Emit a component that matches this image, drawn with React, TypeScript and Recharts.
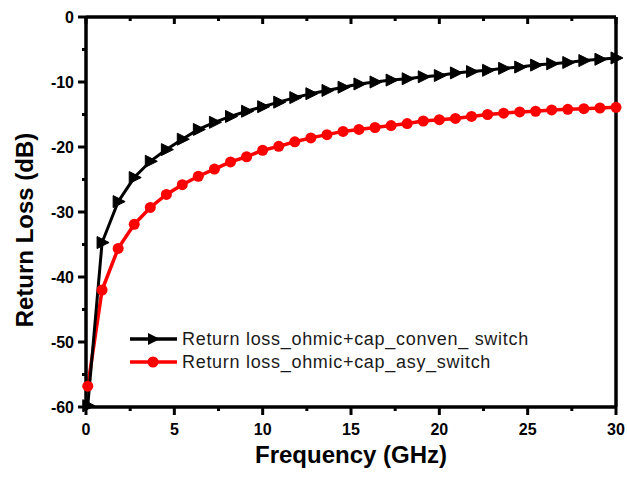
import React from 'react';
import { LineChart, Line, XAxis, YAxis } from 'recharts';

const freqs = [0.1, 0.91, 1.82, 2.73, 3.64, 4.55, 5.45, 6.36, 7.27, 8.18, 9.09, 10.0, 10.91, 11.82, 12.73, 13.64, 14.55, 15.45, 16.36, 17.27, 18.18, 19.09, 20.0, 20.91, 21.82, 22.73, 23.64, 24.55, 25.45, 26.36, 27.27, 28.18, 29.09, 30.0];
const convenSwitch = [-59.8, -34.7, -28.4, -24.7, -22.2, -20.4, -18.8, -17.3, -16.2, -15.3, -14.5, -13.8, -13.1, -12.4, -11.8, -11.3, -10.8, -10.3, -10.0, -9.7, -9.5, -9.2, -9.0, -8.6, -8.4, -8.2, -7.9, -7.7, -7.4, -7.2, -7.0, -6.7, -6.5, -6.3];
const asySwitch = [-56.8, -42.0, -35.6, -31.9, -29.3, -27.3, -25.8, -24.5, -23.4, -22.3, -21.5, -20.5, -19.9, -19.2, -18.6, -18.1, -17.6, -17.3, -17.0, -16.7, -16.4, -16.0, -15.8, -15.6, -15.3, -15.0, -14.8, -14.6, -14.5, -14.3, -14.2, -14.1, -14.0, -13.9];
const seriesNames = ['Return loss_ohmic+cap_conven_ switch', 'Return loss_ohmic+cap_asy_switch'];
const xTicks = [0, 2.5, 5, 7.5, 10, 12.5, 15, 17.5, 20, 22.5, 25, 27.5, 30];
const yTicks = [-60, -55, -50, -45, -40, -35, -30, -25, -20, -15, -10, -5, 0];
const xTitle = 'Frequency (GHz)';
const yTitle = 'Return Loss (dB)';

const data = freqs.map((f, i) => ({ freq: f, conven: convenSwitch[i], asy: asySwitch[i] }));

const FONT = 'Liberation Sans, Arial, sans-serif';

const BottomTick = (props: any) => {
  const { x, y, payload } = props;
  const major = payload.value % 5 === 0;
  return (
    <g>
      <line x1={x} y1={y} x2={x} y2={y + (major ? 8 : 4)} stroke="#000" strokeWidth={3} />
      {major && (
        <text x={x} y={y + 28} textAnchor="middle" fontFamily={FONT} fontWeight="bold" fontSize={16} fill="#000">
          {payload.value}
        </text>
      )}
    </g>
  );
};

const LeftTick = (props: any) => {
  const { x, y, payload } = props;
  const major = payload.value % 10 === 0;
  return (
    <g>
      <line x1={x} y1={y} x2={x - (major ? 8 : 4)} y2={y} stroke="#000" strokeWidth={3} />
      {major && (
        <text x={x - 12} y={y + 5.5} textAnchor="end" fontFamily={FONT} fontWeight="bold" fontSize={16} fill="#000">
          {payload.value}
        </text>
      )}
    </g>
  );
};

const TopTick = (props: any) => {
  const { x, y, payload } = props;
  const major = payload.value % 5 === 0;
  return <line x1={x} y1={y} x2={x} y2={y + (major ? 7 : 4)} stroke="#000" strokeWidth={3} />;
};

const RightTick = (props: any) => {
  const { x, y, payload } = props;
  const major = payload.value % 10 === 0;
  return <line x1={x} y1={y} x2={x - (major ? 7 : 4)} y2={y} stroke="#000" strokeWidth={3} />;
};

const TriangleDot = (props: any) => {
  const { cx, cy, index } = props;
  if (cx == null || cy == null) return <g key={`t${index}`} />;
  return (
    <polygon
      key={`t${index}`}
      points={`${cx - 5},${cy - 6} ${cx + 7},${cy} ${cx - 5},${cy + 6}`}
      fill="#000"
      stroke="#000"
      strokeWidth={1}
    />
  );
};

const CircleDot = (props: any) => {
  const { cx, cy, index } = props;
  if (cx == null || cy == null) return <g key={`c${index}`} />;
  return <circle key={`c${index}`} cx={cx} cy={cy} r={5.5} fill="#ff0000" stroke="none" />;
};

export default function App() {
  return (
    <div style={{ position: 'absolute', left: 0, top: 0, width: 627, height: 477, background: '#fff' }}>
      <LineChart width={627} height={477} data={data} margin={{ top: 0, right: 0, bottom: 0, left: 0 }}>
        <XAxis
          xAxisId="top"
          orientation="top"
          type="number"
          dataKey="freq"
          domain={[0, 30]}
          ticks={xTicks}
          interval={0}
          height={17}
          tickSize={0}
          tickMargin={0}
          tickLine={false}
          tick={<TopTick />}
          axisLine={{ stroke: '#000', strokeWidth: 3.5 }}
        />
        <XAxis
          xAxisId="bottom"
          orientation="bottom"
          type="number"
          dataKey="freq"
          domain={[0, 30]}
          ticks={xTicks}
          interval={0}
          height={70}
          tickSize={0}
          tickMargin={0}
          tickLine={false}
          tick={<BottomTick />}
          axisLine={{ stroke: '#000', strokeWidth: 3.5 }}
        />
        <YAxis
          yAxisId="left"
          orientation="left"
          type="number"
          domain={[-60, 0]}
          ticks={yTicks}
          interval={0}
          width={86}
          tickSize={0}
          tickMargin={0}
          tickLine={false}
          tick={<LeftTick />}
          axisLine={{ stroke: '#000', strokeWidth: 3.5 }}
        />
        <YAxis
          yAxisId="right"
          orientation="right"
          type="number"
          domain={[-60, 0]}
          ticks={yTicks}
          interval={0}
          width={11}
          tickSize={0}
          tickMargin={0}
          tickLine={false}
          tick={<RightTick />}
          axisLine={{ stroke: '#000', strokeWidth: 3.5 }}
        />
        <Line
          xAxisId="bottom"
          yAxisId="left"
          type="linear"
          dataKey="asy"
          name={seriesNames[1]}
          stroke="#ff0000"
          strokeWidth={3.5}
          dot={<CircleDot />}
          isAnimationActive={false}
        />
        <Line
          xAxisId="bottom"
          yAxisId="left"
          type="linear"
          dataKey="conven"
          name={seriesNames[0]}
          stroke="#000"
          strokeWidth={3}
          dot={<TriangleDot />}
          isAnimationActive={false}
        />
      </LineChart>
      <svg width={627} height={477} style={{ position: 'absolute', left: 0, top: 0, pointerEvents: 'none' }}>
        <text x={351} y={463} textAnchor="middle" fontFamily={FONT} fontWeight="bold" fontSize={24} fill="#000">
          {xTitle}
        </text>
        <text
          x={0}
          y={0}
          transform="translate(33,230) rotate(-90)"
          textAnchor="middle"
          fontFamily={FONT}
          fontWeight="bold"
          fontSize={24}
          fill="#000"
        >
          {yTitle}
        </text>
        <g>
          <line x1={130} y1={339} x2={177} y2={339} stroke="#000" strokeWidth={3.5} />
          <polygon points={`148,333 160,339 148,345`} fill="#000" />
          <text x={182} y={345} fontFamily={FONT} fontSize={18} letterSpacing={0.7} fill="#1a1a1a">
            {seriesNames[0]}
          </text>
          <line x1={130} y1={362} x2={177} y2={362} stroke="#ff0000" strokeWidth={3.5} />
          <circle cx={153} cy={362} r={5.5} fill="#ff0000" />
          <text x={182} y={368} fontFamily={FONT} fontSize={18} letterSpacing={0.7} fill="#1a1a1a">
            {seriesNames[1]}
          </text>
        </g>
      </svg>
    </div>
  );
}
